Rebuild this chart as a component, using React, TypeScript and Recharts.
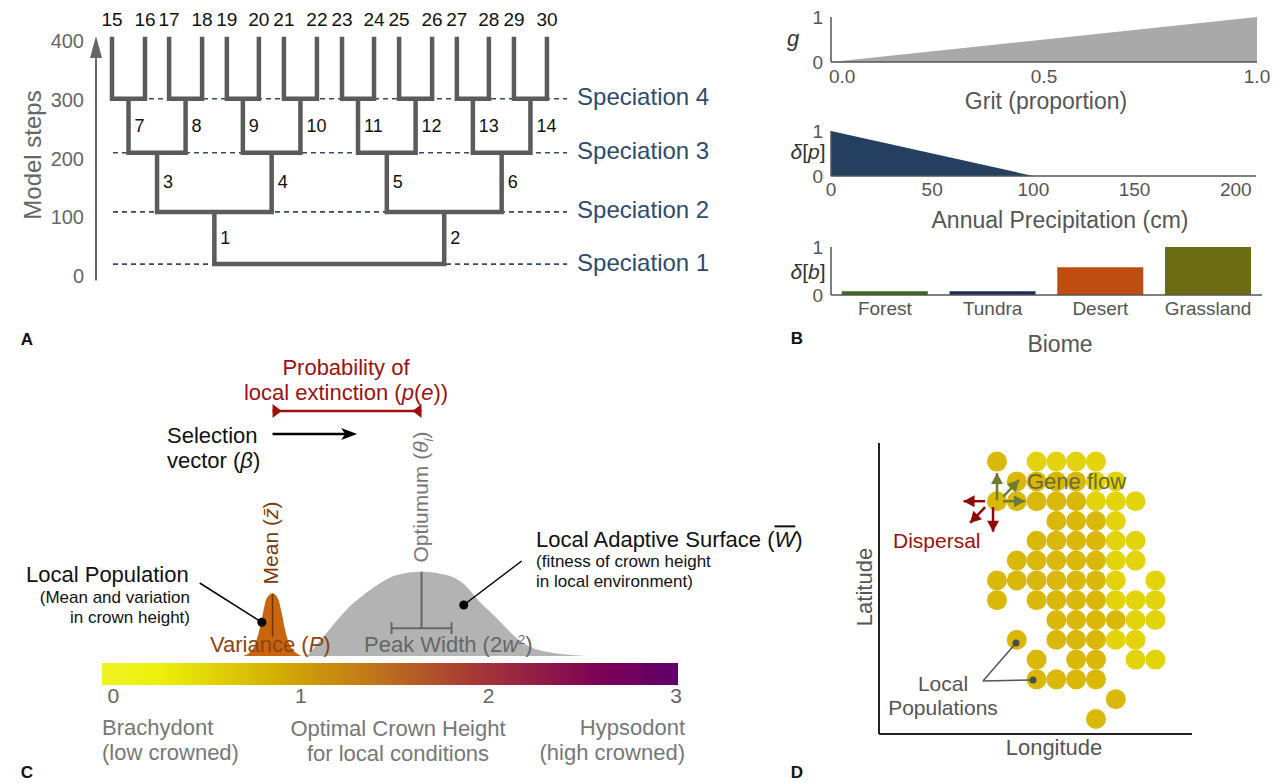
import React from 'react';
import {
  ComposedChart,
  Line,
  Scatter,
  Area,
  XAxis,
  YAxis,
  ReferenceLine,
  ReferenceDot,
  ReferenceArea,
  AreaChart,
  BarChart,
  Bar,
  Cell,
  ScatterChart,
} from 'recharts';

const FONT = '"Liberation Sans", Arial, Helvetica, sans-serif';

// ---------- A: phylogeny ----------
const leafIds = [15, 16, 17, 18, 19, 20, 21, 22, 23, 24, 25, 26, 27, 28, 29, 30];
const leafX = [0, 1, 1.73, 2.73, 3.48, 4.45, 5.21, 6.21, 6.97, 7.94, 8.7, 9.7, 10.45, 11.42, 12.18, 13.18];
const speciationSteps = [20, 109, 210, 302];
const speciationNames = ['Speciation 1', 'Speciation 2', 'Speciation 3', 'Speciation 4'];
const tipStep = 408;
const stepTicks = [0, 100, 200, 300, 400];
const dashSpan = [0.03, 13.79];

// ---------- B: response functions ----------
const gritCurve = [
  { x: 0, g: 0 },
  { x: 1, g: 1 },
];
const gritTicks = [0, 0.5, 1];
const precipCurve = [
  { p: 0, d: 1 },
  { p: 100, d: 0 },
  { p: 200, d: 0 },
];
const precipTicks = [0, 50, 100, 150, 200];
const biomeNames = ['Forest', 'Tundra', 'Desert', 'Grassland'];
const biomeDelta = [0.08, 0.08, 0.58, 1.0];
const biomeColors = ['#3b6b1c', '#1b2e55', '#bf4d12', '#6c6c12'];

// ---------- C: adaptive landscape ----------
const crownTicks = [0, 1, 2, 3];
const populationCurve = [
  { x: 0.692, y: 0 },
  { x: 0.745, y: 0.09 },
  { x: 0.781, y: 0.33 },
  { x: 0.799, y: 0.52 },
  { x: 0.817, y: 0.68 },
  { x: 0.849, y: 0.74 },
  { x: 0.878, y: 0.68 },
  { x: 0.897, y: 0.52 },
  { x: 0.914, y: 0.33 },
  { x: 0.941, y: 0.13 },
  { x: 1.003, y: 0 },
];
const surfaceCurve = [
  { x: 0.995, y: 0 },
  { x: 1.03, y: 0.01 },
  { x: 1.083, y: 0.13 },
  { x: 1.136, y: 0.27 },
  { x: 1.243, y: 0.55 },
  { x: 1.332, y: 0.72 },
  { x: 1.42, y: 0.86 },
  { x: 1.51, y: 0.96 },
  { x: 1.643, y: 1.0 },
  { x: 1.776, y: 0.96 },
  { x: 1.865, y: 0.86 },
  { x: 1.954, y: 0.64 },
  { x: 2.043, y: 0.45 },
  { x: 2.131, y: 0.25 },
  { x: 2.22, y: 0.11 },
  { x: 2.309, y: 0.05 },
  { x: 2.398, y: 0.02 },
  { x: 2.522, y: 0 },
];
const zMean = 0.849;
const zPeak = 0.74;
const theta = 1.643;
const peakHalfWidth = 0.16;
const selectionTo = 1.3;

// ---------- D: local populations (lon, lat grid) ----------
const goldPops = [
  [0, 13], [1, 12], [2, 12], [3, 12], [4, 12], [0, 11], [1, 11], [2, 11], [3, 11], [4, 11],
  [3, 10], [4, 10], [5, 10], [2, 9], [3, 9], [4, 9], [5, 9], [1, 8], [2, 8], [3, 8], [4, 8], [5, 8],
  [0, 7], [1, 7], [2, 7], [3, 7], [4, 7], [5, 7], [0, 6], [2, 6], [3, 6], [4, 6], [5, 6],
  [3, 5], [4, 5], [5, 5], [6, 5], [1, 4], [3, 4], [4, 4], [5, 4], [2, 3], [4, 3], [5, 3],
  [2, 2], [3, 2], [4, 2], [5, 2], [6, 1], [5, 0],
];
const palePops = [
  [2, 13], [3, 13], [4, 13], [5, 13], [5, 12], [6, 12], [5, 11], [6, 11], [7, 11], [6, 10],
  [6, 9], [7, 9], [6, 8], [7, 8], [6, 7], [8, 7], [6, 6], [7, 6], [8, 6], [7, 5], [8, 5],
  [6, 4], [7, 4], [7, 3], [8, 3],
];
const geneFlowArrows = [
  [[0, 11.05], [0, 12.42]],
  [[0.3, 11], [1.41, 11]],
  [[0.32, 11.23], [1.11, 12.07]],
];
const dispersalArrows = [
  [[-0.6, 11], [-1.69, 11]],
  [[-0.2, 10.7], [-0.2, 9.46]],
  [[-0.6, 10.7], [-1.36, 9.9]],
];
const calloutFrom = [-0.71, 1.92];
const calloutTargets = [[0.96, 3.84], [1.82, 1.97]];

// ---------- tree helpers ----------
const levelOf = (k: number) => Math.floor(Math.log2(k + 1));
const nodeX = (k: number): number => (k >= 15 ? leafX[k - 15] : (nodeX(2 * k + 1) + nodeX(2 * k + 2)) / 2);
const nodeTop = (k: number) => (k >= 15 ? tipStep : speciationSteps[levelOf(k)]);
const nodeBase = (k: number) => speciationSteps[levelOf(k) - 1];

const brackets = Array.from({ length: 15 }, (_, k) => {
  const a = 2 * k + 1;
  const b = 2 * k + 2;
  const split = speciationSteps[levelOf(k)];
  return [
    { x: nodeX(a), y: nodeTop(a) },
    { x: nodeX(a), y: split },
    { x: nodeX(b), y: split },
    { x: nodeX(b), y: nodeTop(b) },
  ];
});
const nodeLabels = Array.from({ length: 14 }, (_, i) => {
  const k = i + 1;
  return { x: nodeX(k), y: (nodeBase(k) + nodeTop(k)) / 2, label: String(k) };
});
const leafLabels = leafIds.map((id, i) => ({ x: leafX[i], y: tipStep, label: String(id) }));
const specLabels = speciationSteps.map((s, i) => ({ x: dashSpan[1], y: s, label: speciationNames[i] }));

// ---------- drawing helpers ----------
const textShape =
  (dx: number, dy: number, anchor: string, size: number, color: string) =>
  (p: any) => (
    <text
      x={p.cx + dx}
      y={p.cy + dy}
      textAnchor={anchor}
      dominantBaseline="central"
      fontSize={size}
      fill={color}
      fontFamily={FONT}
    >
      {p.payload.label}
    </text>
  );

const arrowShape =
  (color: string, width: number, len: number, half: number, notch = 0) =>
  (p: any) => {
    const { x1, y1, x2, y2 } = p;
    const a = Math.atan2(y2 - y1, x2 - x1);
    const cx = Math.cos(a);
    const sy = Math.sin(a);
    const bx = x2 - len * cx;
    const by = y2 - len * sy;
    const nx = x2 - (len - notch) * cx;
    const ny = y2 - (len - notch) * sy;
    const px = -sy * half;
    const py = cx * half;
    const pts = `${x2},${y2} ${bx + px},${by + py} ${nx},${ny} ${bx - px},${by - py}`;
    return (
      <g>
        <line x1={x1} y1={y1} x2={nx} y2={ny} stroke={color} strokeWidth={width} />
        <polygon points={pts} fill={color} />
      </g>
    );
  };

const spanShape = (color: string) => (p: any) => {
  const { x1, y1, x2, y2 } = p;
  return (
    <g>
      <line x1={x1} y1={y1} x2={x2} y2={y2} stroke={color} strokeWidth={2.5} />
      <polygon points={`${x1},${y1 - 7} ${x1},${y1 + 7} ${x1 + 9},${y1}`} fill={color} />
      <polygon points={`${x2},${y2 - 7} ${x2},${y2 + 7} ${x2 - 9},${y2}`} fill={color} />
    </g>
  );
};

type TxtProps = {
  x: number;
  y: number;
  size: number;
  color?: string;
  anchor?: 'start' | 'middle' | 'end';
  rotate?: boolean;
  bold?: boolean;
  children: React.ReactNode;
};

function Txt({ x, y, size, color = '#111', anchor = 'start', rotate, bold, children }: TxtProps) {
  const tx = anchor === 'middle' ? '-50%' : anchor === 'end' ? '-100%' : '0';
  return (
    <div
      style={{
        position: 'absolute',
        left: x,
        top: y,
        transform: rotate ? 'translate(-50%,-50%) rotate(-90deg)' : `translate(${tx},-50%)`,
        fontSize: size,
        color,
        whiteSpace: 'nowrap',
        lineHeight: 1.15,
        fontWeight: bold ? 700 : 400,
        textAlign: anchor === 'end' ? 'right' : anchor === 'middle' ? 'center' : 'left',
      }}
    >
      {children}
    </div>
  );
}

const axisTick = (size: number, fill: string) => ({ fontSize: size, fill, fontFamily: FONT });

function PhyloTree() {
  return (
    <ComposedChart width={720} height={300} margin={{ top: 0, right: 0, bottom: 0, left: 0 }}>
      <XAxis type="number" dataKey="x" domain={[-0.364, 18.424]} hide allowDataOverflow />
      <YAxis
        type="number"
        dataKey="y"
        domain={[-41.3, 470.6]}
        ticks={stepTicks}
        interval={0}
        width={100}
        axisLine={false}
        tickLine={false}
        tickSize={0}
        tickMargin={16}
        tick={axisTick(20, '#666')}
        allowDataOverflow
      />
      <ReferenceLine
        segment={[{ x: -0.485, y: -8 }, { x: -0.485, y: tipStep + 1 }]}
        ifOverflow="visible"
        shape={arrowShape('#666', 2, 22, 6)}
      />
      {speciationSteps.map((s, i) => (
        <Line
          key={'sp' + i}
          data={[{ x: dashSpan[0], y: s }, { x: dashSpan[1], y: s }]}
          dataKey="y"
          stroke="#2e4b6d"
          strokeWidth={1.6}
          strokeDasharray="5 4"
          dot={false}
          activeDot={false}
          isAnimationActive={false}
        />
      ))}
      {brackets.map((pts, i) => (
        <Line
          key={'br' + i}
          data={pts}
          dataKey="y"
          type="linear"
          stroke="#5b5b5b"
          strokeWidth={4.5}
          strokeLinejoin="miter"
          dot={false}
          activeDot={false}
          isAnimationActive={false}
        />
      ))}
      <Scatter data={nodeLabels} shape={textShape(6, 0, 'start', 18, '#111')} isAnimationActive={false} />
      <Scatter data={leafLabels} shape={textShape(0, -17, 'middle', 19, '#111')} isAnimationActive={false} />
      <Scatter data={specLabels} shape={textShape(10, -2, 'start', 24, '#2e4b6d')} isAnimationActive={false} />
    </ComposedChart>
  );
}

const bAxisLine = { stroke: '#555', strokeWidth: 1.5 };

const gritTick = (p: any) => {
  const v = p.payload.value;
  const anchor = v === 0 ? 'start' : 'middle';
  return (
    <text x={v === 0 ? p.x - 2 : p.x} y={p.y} dy="0.75em" textAnchor={anchor} fontSize={19} fill="#555" fontFamily={FONT}>
      {Number(v).toFixed(1)}
    </text>
  );
};

function GritChart() {
  return (
    <AreaChart width={482} height={92} data={gritCurve} margin={{ top: 17, right: 25, bottom: 0, left: 0 }}>
      <XAxis
        type="number"
        dataKey="x"
        domain={[0, 1]}
        ticks={gritTicks}
        interval={0}
        height={30}
        axisLine={bAxisLine}
        tickLine={false}
        tickSize={0}
        tickMargin={7}
        tick={gritTick}
      />
      <YAxis
        domain={[0, 1]}
        ticks={[0, 1]}
        width={31}
        axisLine={bAxisLine}
        tickLine={false}
        tickSize={0}
        tickMargin={8}
        tick={axisTick(19, '#555')}
      />
      <Area dataKey="g" type="linear" fill="#a9a9a9" fillOpacity={1} stroke="none" isAnimationActive={false} />
    </AreaChart>
  );
}

function PrecipChart() {
  return (
    <AreaChart width={482} height={92} data={precipCurve} margin={{ top: 17, right: 26, bottom: 0, left: 0 }}>
      <XAxis
        type="number"
        dataKey="p"
        domain={[0, 210]}
        ticks={precipTicks}
        interval={0}
        height={30}
        axisLine={bAxisLine}
        tickLine={false}
        tickSize={0}
        tickMargin={7}
        tick={axisTick(19, '#555')}
      />
      <YAxis
        domain={[0, 1]}
        ticks={[0, 1]}
        width={31}
        axisLine={bAxisLine}
        tickLine={false}
        tickSize={0}
        tickMargin={8}
        tick={axisTick(19, '#555')}
      />
      <Area dataKey="d" type="linear" fill="#243f5f" fillOpacity={1} stroke="none" isAnimationActive={false} />
    </AreaChart>
  );
}

const biomeData = biomeNames.map((b, i) => ({ biome: b, value: biomeDelta[i] }));

function BiomeChart() {
  return (
    <BarChart
      width={482}
      height={95}
      data={biomeData}
      margin={{ top: 17, right: 20, bottom: 0, left: 0 }}
      barCategoryGap="10%"
    >
      <XAxis
        dataKey="biome"
        height={30}
        axisLine={bAxisLine}
        tickLine={false}
        tickSize={0}
        tickMargin={7}
        interval={0}
        tick={axisTick(19, '#555')}
      />
      <YAxis
        domain={[0, 1]}
        ticks={[0, 1]}
        width={31}
        axisLine={bAxisLine}
        tickLine={false}
        tickSize={0}
        tickMargin={8}
        tick={axisTick(19, '#555')}
      />
      <Bar dataKey="value" isAnimationActive={false}>
        {biomeData.map((d, i) => (
          <Cell key={d.biome} fill={biomeColors[i]} />
        ))}
      </Bar>
    </BarChart>
  );
}

function LandscapeChart() {
  return (
    <ComposedChart width={700} height={362} margin={{ top: 0, right: 22, bottom: 0, left: 102 }}>
      <defs>
        <linearGradient id="crownGrad" x1="0" y1="0" x2="1" y2="0">
          <stop offset="0%" stopColor="#f0f324" />
          <stop offset="10%" stopColor="#ecf00a" />
          <stop offset="20%" stopColor="#e0d008" />
          <stop offset="30%" stopColor="#d4b004" />
          <stop offset="36%" stopColor="#cc9a0a" />
          <stop offset="46%" stopColor="#c07a18" />
          <stop offset="55%" stopColor="#b45a28" />
          <stop offset="63%" stopColor="#a83e34" />
          <stop offset="71%" stopColor="#9a2840" />
          <stop offset="80%" stopColor="#88124c" />
          <stop offset="87%" stopColor="#7a0058" />
          <stop offset="100%" stopColor="#600068" />
        </linearGradient>
      </defs>
      <XAxis
        type="number"
        dataKey="x"
        domain={[-0.06, 3.01]}
        ticks={crownTicks}
        interval={0}
        height={27}
        axisLine={false}
        tickLine={false}
        tickSize={0}
        tickMargin={3}
        tick={axisTick(21, '#666')}
        allowDataOverflow
      />
      <YAxis type="number" dataKey="y" domain={[-0.344, 3.63]} hide allowDataOverflow />
      <ReferenceArea
        x1={-0.06}
        x2={3.01}
        y1={-0.344}
        y2={-0.083}
        fill="url(#crownGrad)"
        fillOpacity={1}
        stroke="none"
        ifOverflow="visible"
      />
      <Area
        data={surfaceCurve}
        dataKey="y"
        type="monotone"
        baseValue={0}
        fill="#b3b3b3"
        fillOpacity={1}
        stroke="none"
        isAnimationActive={false}
      />
      <Area
        data={populationCurve}
        dataKey="y"
        type="monotone"
        baseValue={0}
        fill="#c9650f"
        fillOpacity={1}
        stroke="none"
        isAnimationActive={false}
      />
      <ReferenceLine
        segment={[{ x: zMean, y: zPeak }, { x: zMean, y: 0.23 }]}
        stroke="#6e3508"
        strokeWidth={1.5}
        ifOverflow="visible"
      />
      <ReferenceLine
        segment={[{ x: theta, y: 1 }, { x: theta, y: 0.33 }]}
        stroke="#666"
        strokeWidth={2}
        ifOverflow="visible"
      />
      <ReferenceLine
        segment={[{ x: theta - peakHalfWidth, y: 0.33 }, { x: theta + peakHalfWidth, y: 0.33 }]}
        stroke="#666"
        strokeWidth={2}
        ifOverflow="visible"
      />
      <ReferenceLine
        segment={[{ x: theta - peakHalfWidth, y: 0.26 }, { x: theta - peakHalfWidth, y: 0.4 }]}
        stroke="#666"
        strokeWidth={2}
        ifOverflow="visible"
      />
      <ReferenceLine
        segment={[{ x: theta + peakHalfWidth, y: 0.26 }, { x: theta + peakHalfWidth, y: 0.4 }]}
        stroke="#666"
        strokeWidth={2}
        ifOverflow="visible"
      />
      <ReferenceLine
        segment={[{ x: zMean, y: 2.906 }, { x: theta, y: 2.906 }]}
        ifOverflow="visible"
        shape={spanShape('#9b1111')}
      />
      <ReferenceLine
        segment={[{ x: zMean, y: 2.633 }, { x: selectionTo, y: 2.633 }]}
        ifOverflow="visible"
        shape={arrowShape('#000', 2.5, 16, 6, 4)}
      />
      <ReferenceLine
        segment={[{ x: 0.461, y: 0.866 }, { x: 0.792, y: 0.4 }]}
        stroke="#000"
        strokeWidth={1.5}
        ifOverflow="visible"
      />
      <ReferenceLine
        segment={[{ x: 2.177, y: 1.127 }, { x: 1.868, y: 0.605 }]}
        stroke="#000"
        strokeWidth={1.5}
        ifOverflow="visible"
      />
      <ReferenceDot x={0.792} y={0.4} r={4.5} fill="#000" stroke="none" ifOverflow="visible" />
      <ReferenceDot x={1.868} y={0.605} r={4.5} fill="#000" stroke="none" ifOverflow="visible" />
    </ComposedChart>
  );
}

const toPoint = (c: number[]) => ({ lon: c[0], lat: c[1] });
const dot = (fill: string) => (p: any) => <circle cx={p.cx} cy={p.cy} r={10} fill={fill} />;

// the map uses the same pixel size for one lon step and one lat step, so angles carry over
const arrowPoints = (seg: number[][]) => {
  const [a, b] = seg;
  const ang = Math.atan2(-(b[1] - a[1]), b[0] - a[0]);
  return [
    { lon: a[0], lat: a[1], tip: false, ang },
    { lon: b[0], lat: b[1], tip: true, ang },
  ];
};
const headShape = (color: string) => (p: any) => {
  if (!p.payload.tip) return <g />;
  const { cx, cy } = p;
  const ang = p.payload.ang;
  const len = 11;
  const half = 6;
  const bx = cx - len * Math.cos(ang);
  const by = cy - len * Math.sin(ang);
  const px = -Math.sin(ang) * half;
  const py = Math.cos(ang) * half;
  return <polygon points={`${cx},${cy} ${bx + px},${by + py} ${bx - px},${by - py}`} fill={color} />;
};
const calloutShape = (p: any) =>
  p.payload.end ? <circle cx={p.cx} cy={p.cy} r={3.5} fill="#4d4d4d" /> : <g />;

function PopulationMap() {
  return (
    <ScatterChart width={442} height={363} margin={{ top: 23, right: 90, bottom: 49, left: 39 }}>
      <XAxis type="number" dataKey="lon" domain={[-5.96, 9.85]} hide allowDataOverflow />
      <YAxis type="number" dataKey="lat" domain={[-0.76, 13.94]} hide allowDataOverflow />
      <ReferenceLine x={-5.96} stroke="#222" strokeWidth={2} ifOverflow="visible" />
      <ReferenceLine y={-0.76} stroke="#222" strokeWidth={2} ifOverflow="visible" />
      <Scatter data={goldPops.map(toPoint)} shape={dot('#dab808')} isAnimationActive={false} />
      <Scatter data={palePops.map(toPoint)} shape={dot('#e2d30b')} isAnimationActive={false} />
      {calloutTargets.map((t, i) => (
        <Scatter
          key={'co' + i}
          data={[
            { lon: calloutFrom[0], lat: calloutFrom[1], end: false },
            { lon: t[0], lat: t[1], end: true },
          ]}
          line={{ stroke: '#555', strokeWidth: 1.5 }}
          shape={calloutShape}
          isAnimationActive={false}
        />
      ))}
      {geneFlowArrows.map((seg, i) => (
        <Scatter
          key={'gf' + i}
          data={arrowPoints(seg)}
          line={{ stroke: '#6e7b32', strokeWidth: 2.5 }}
          shape={headShape('#6e7b32')}
          isAnimationActive={false}
        />
      ))}
      {dispersalArrows.map((seg, i) => (
        <Scatter
          key={'dp' + i}
          data={arrowPoints(seg)}
          line={{ stroke: '#8e0a0a', strokeWidth: 2.5 }}
          shape={headShape('#8e0a0a')}
          isAnimationActive={false}
        />
      ))}
    </ScatterChart>
  );
}

export default function App() {
  return (
    <div
      style={{
        position: 'relative',
        width: 1282,
        height: 783,
        background: '#fff',
        fontFamily: FONT,
        overflow: 'hidden',
      }}
    >
      <style>{'body{margin:0}'}</style>

      {/* A */}
      <div style={{ position: 'absolute', left: 0, top: 0 }}>
        <PhyloTree />
      </div>
      <Txt x={33} y={155} size={24} color="#666" rotate>
        Model steps
      </Txt>
      <Txt x={27} y={340} size={17} bold anchor="middle">
        A
      </Txt>

      {/* B */}
      <div style={{ position: 'absolute', left: 800, top: 0 }}>
        <GritChart />
      </div>
      <div style={{ position: 'absolute', left: 800, top: 114 }}>
        <PrecipChart />
      </div>
      <div style={{ position: 'absolute', left: 800, top: 230 }}>
        <BiomeChart />
      </div>
      <Txt x={793} y={39} size={22} color="#333" anchor="middle">
        <i>g</i>
      </Txt>
      <Txt x={1046} y={101} size={23} color="#555" anchor="middle">
        Grit (proportion)
      </Txt>
      <Txt x={808} y={152} size={21} color="#333" anchor="middle">
        <i>δ</i>[<i>p</i>]
      </Txt>
      <Txt x={1060} y={220} size={23} color="#555" anchor="middle">
        Annual Precipitation (cm)
      </Txt>
      <Txt x={808} y={272} size={21} color="#333" anchor="middle">
        <i>δ</i>[<i>b</i>]
      </Txt>
      <Txt x={1060} y={344} size={23} color="#555" anchor="middle">
        Biome
      </Txt>
      <Txt x={797} y={339} size={17} bold anchor="middle">
        B
      </Txt>

      {/* C */}
      <div style={{ position: 'absolute', left: 0, top: 350 }}>
        <LandscapeChart />
      </div>
      <Txt x={346} y={380} size={22} color="#9b1111" anchor="middle">
        Probability of
        <br />
        local extinction (<i>p</i>(<i>e</i>))
      </Txt>
      <Txt x={167} y={448} size={22} color="#111">
        Selection
        <br />
        vector (<i>β</i>)
      </Txt>
      <Txt x={271} y={543} size={21} color="#7a3a0a" rotate>
        Mean (<i>z̄</i>)
      </Txt>
      <Txt x={423} y={497} size={21} color="#777" rotate>
        Optiumum (<i>θ</i>
        <sub style={{ fontSize: 13 }}>
          <i>i</i>
        </sub>
        )
      </Txt>
      <Txt x={26} y={575} size={22} color="#111">
        Local Population
      </Txt>
      <Txt x={190} y={608} size={17} color="#111" anchor="end">
        (Mean and variation
        <br />
        in crown height)
      </Txt>
      <Txt x={210} y={645} size={22} color="#8b4510">
        Variance (<i>P</i>)
      </Txt>
      <Txt x={364} y={645} size={22} color="#666">
        Peak Width (2<i>w</i>
        <sup style={{ fontSize: 13 }}>2</sup>)
      </Txt>
      <Txt x={536} y={540} size={22} color="#111">
        Local Adaptive Surface (<i style={{ textDecoration: 'overline' }}>W</i>)
      </Txt>
      <Txt x={536} y={572} size={17} color="#111">
        (fitness of crown height
        <br />
        in local environment)
      </Txt>
      <Txt x={102} y={740} size={22} color="#777">
        Brachydont
        <br />
        (low crowned)
      </Txt>
      <Txt x={398} y={741} size={22} color="#777" anchor="middle">
        Optimal Crown Height
        <br />
        for local conditions
      </Txt>
      <Txt x={685} y={740} size={22} color="#777" anchor="end">
        Hypsodont
        <br />
        (high crowned)
      </Txt>
      <Txt x={27} y={773} size={17} bold anchor="middle">
        C
      </Txt>

      {/* D */}
      <div style={{ position: 'absolute', left: 840, top: 420 }}>
        <PopulationMap />
      </div>
      <Txt x={1027} y={482} size={22} color="#6b6c30">
        Gene flow
      </Txt>
      <Txt x={893} y={541} size={21} color="#9b1111">
        Dispersal
      </Txt>
      <Txt x={943} y={696} size={21} color="#555" anchor="middle">
        Local
        <br />
        Populations
      </Txt>
      <Txt x={865} y={587} size={22} color="#555" rotate>
        Latitude
      </Txt>
      <Txt x={1054} y={748} size={22} color="#555" anchor="middle">
        Longitude
      </Txt>
      <Txt x={797} y={773} size={17} bold anchor="middle">
        D
      </Txt>
    </div>
  );
}
